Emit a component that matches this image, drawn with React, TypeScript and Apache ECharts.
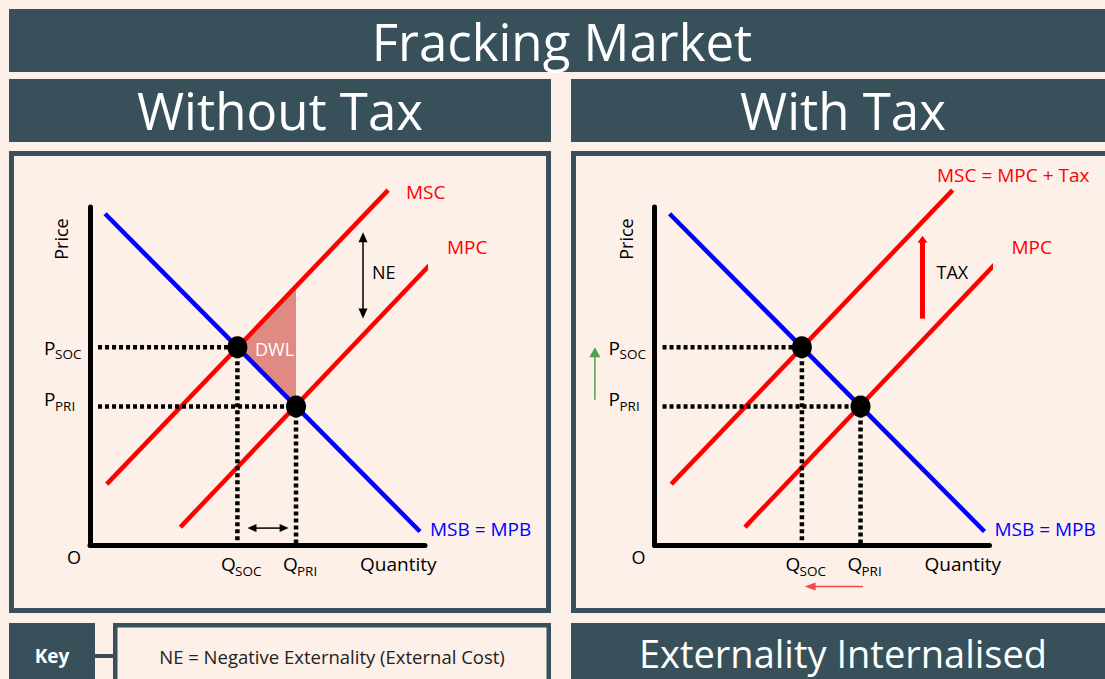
import React, { useEffect, useRef } from "react";
import * as echarts from "echarts";

// ---- data (economic units: quantity 0..100, price 0..100) ----
const msbQ = [4.5, 98.5];
const msbP = [98, 4];
const mscQ = [5, 89];
const mscP = [18, 105];
const mpcQ = [27, 103];
const mpcP = [5.3, 84.5];
const qSoc = 44;
const pSoc = 58.5;
const qPri = 61.5;
const pPri = 41;
const dwlQ = [44, 61.5, 61.5];
const dwlP = [58.5, 76.5, 41];
const dashStartQ = 2.4;
// annotation arrows: [fromQ, fromP, toQ, toP]
const neArrow = [81.5, 67, 81.5, 92.5];
const qGapArrow = [47, 5, 59.3, 5];
const taxArrow = [80, 67, 80, 91.5];
const greenArrow = [-17.8, 43, -17.8, 58.5];
const redArrow = [62.2, -12.3, 44.8, -12.3];

const BG = "#fdf0e8";
const DARK = "#37505a";
const RED = "#ff0000";
const BLUE = "#0000ff";
const FONT = '"Open Sans", "Liberation Sans", sans-serif';

const pair = (qs: number[], ps: number[]) => qs.map((q, i) => [q, ps[i]]);

function txt(text: string, x: number, y: number, size: number, color: string, opts: any = {}) {
  return {
    type: "text",
    x,
    y,
    z: 100,
    silent: true,
    rotation: opts.rotation || 0,
    style: {
      text,
      fill: color,
      fontSize: size,
      fontFamily: FONT,
      fontWeight: opts.bold ? "bold" : "normal",
      textAlign: opts.align || "left",
      textVerticalAlign: "middle",
    },
  };
}

function arrowSeries(idx: number, a: number[], color: string, width: number, both: boolean, headL: number, headW: number) {
  return {
    type: "custom",
    xAxisIndex: idx,
    yAxisIndex: idx,
    clip: false,
    silent: true,
    z: 6,
    data: [a],
    renderItem: (params: any, api: any) => {
      const p1 = api.coord([api.value(0), api.value(1)]);
      const p2 = api.coord([api.value(2), api.value(3)]);
      const dx = p2[0] - p1[0];
      const dy = p2[1] - p1[1];
      const len = Math.sqrt(dx * dx + dy * dy) || 1;
      const ux = dx / len;
      const uy = dy / len;
      const nx = -uy;
      const ny = ux;
      const head = (tip: number[], sx: number, sy: number) => {
        const bx = tip[0] - sx * headL;
        const by = tip[1] - sy * headL;
        return {
          type: "polygon",
          shape: { points: [tip, [bx + nx * headW, by + ny * headW], [bx - nx * headW, by - ny * headW]] },
          style: { fill: color },
        };
      };
      const s1 = both ? [p1[0] + ux * headL * 0.9, p1[1] + uy * headL * 0.9] : p1;
      const s2 = [p2[0] - ux * headL * 0.9, p2[1] - uy * headL * 0.9];
      const children: any[] = [
        { type: "line", shape: { x1: s1[0], y1: s1[1], x2: s2[0], y2: s2[1] }, style: { stroke: color, lineWidth: width } },
        head(p2, ux, uy),
      ];
      if (both) children.push(head(p1, -ux, -uy));
      return { type: "group", children };
    },
  };
}

function panelSeries(idx: number, withTax: boolean) {
  const ax = { xAxisIndex: idx, yAxisIndex: idx };
  const solid = (data: number[][], color: string, z: number) => ({
    type: "line",
    ...ax,
    data,
    symbol: "none",
    clip: false,
    silent: true,
    z,
    lineStyle: { color, width: 4.5 },
    animation: false,
  });
  const dashed = (data: number[][]) => ({
    type: "line",
    ...ax,
    data,
    symbol: "none",
    clip: false,
    silent: true,
    z: 5,
    lineStyle: { color: "#000", width: 4.5, type: [4, 3] },
    animation: false,
  });
  const list: any[] = [];
  if (!withTax) {
    list.push({
      type: "custom",
      ...ax,
      clip: false,
      silent: true,
      z: 1,
      data: pair(dwlQ, dwlP),
      renderItem: (params: any, api: any) => {
        if (params.dataIndex !== 0) return null;
        const pts = dwlQ.map((q, i) => api.coord([q, dwlP[i]]));
        return { type: "polygon", shape: { points: pts }, style: { fill: "#e08a84" } };
      },
    });
  }
  list.push(solid(pair(mscQ, mscP), RED, 3));
  list.push(solid(pair(mpcQ, mpcP), RED, 3));
  list.push(solid(pair(msbQ, msbP), BLUE, 4));
  list.push(dashed([[dashStartQ, pSoc], [qSoc, pSoc]]));
  list.push(dashed([[dashStartQ, pPri], [qPri, pPri]]));
  list.push(dashed([[qSoc, pSoc], [qSoc, 0]]));
  list.push(dashed([[qPri, pPri], [qPri, 0]]));
  list.push({
    type: "scatter",
    ...ax,
    data: [[qSoc, pSoc], [qPri, pPri]],
    symbolSize: [20, 22],
    itemStyle: { color: "#000", opacity: 1 },
    silent: true,
    clip: false,
    z: 10,
  });
  if (!withTax) {
    list.push(arrowSeries(idx, neArrow, "#000", 1.5, true, 10, 4.5));
    list.push(arrowSeries(idx, qGapArrow, "#000", 1.5, true, 9, 4));
  } else {
    list.push(arrowSeries(idx, taxArrow, RED, 5, false, 7, 5));
    list.push(arrowSeries(idx, greenArrow, "#4ea24a", 1.5, false, 10, 5.5));
    list.push(arrowSeries(idx, redArrow, "#f04a4a", 1.5, false, 11, 4));
  }
  return list;
}

function panelLabels(dx: number, withTax: boolean) {
  const out: any[] = [];
  out.push(txt("Price", 61 + dx, 239, 18, "#000", { align: "center", rotation: Math.PI / 2 }));
  out.push(txt("O", 74 + dx, 557, 18, "#000", { align: "center" }));
  out.push(txt("P", 44 + dx, 348, 19, "#000"));
  out.push(txt("SOC", 55 + dx, 354, 13.5, "#000"));
  out.push(txt("P", 44 + dx, 399, 19, "#000"));
  out.push(txt("PRI", 55 + dx, 406, 13.5, "#000"));
  out.push(txt("Q", 221 + dx, 564, 19, "#000"));
  out.push(txt("SOC", 235 + dx, 571, 13.5, "#000"));
  out.push(txt("Q", 283 + dx, 564, 19, "#000"));
  out.push(txt("PRI", 297 + dx, 571, 13.5, "#000"));
  out.push(txt("Quantity", 360 + dx, 564, 19, "#000"));
  out.push(txt("MPC", 447 + dx, 247, 19, RED));
  out.push(txt("MSB = MPB", 430 + dx, 529, 19, BLUE));
  if (!withTax) {
    out.push(txt("MSC", 406 + dx, 192, 19, RED));
    out.push(txt("NE", 372 + dx, 272, 18, "#000"));
    out.push(txt("DWL", 255 + dx, 349, 18, "#fff"));
  } else {
    out.push(txt("MSC = MPC + Tax", 937, 175, 19, RED));
    out.push(txt("TAX", 372 + dx, 272, 18, "#000"));
  }
  return out;
}

export default function App() {
  const ref = useRef<HTMLDivElement>(null);
  useEffect(() => {
    if (!ref.current) return;
    const chart = echarts.init(ref.current, undefined, { renderer: "svg" });
    const DX = 564.5;
    const axisCommon = {
      type: "value",
      min: 0,
      max: 100,
      axisTick: { show: false },
      axisLabel: { show: false },
      splitLine: { show: false },
      axisLine: { show: true, onZero: false, lineStyle: { color: "#000", width: 5 } },
      z: 2,
    };
    const rects: any[] = [
      { type: "rect", z: -5, shape: { x: 9, y: 9, width: 1110, height: 63 }, style: { fill: DARK } },
      { type: "rect", z: -5, shape: { x: 9, y: 79, width: 542, height: 63 }, style: { fill: DARK } },
      { type: "rect", z: -5, shape: { x: 571, y: 79, width: 545, height: 63 }, style: { fill: DARK } },
      { type: "rect", z: -5, shape: { x: 11.5, y: 153.5, width: 537, height: 457 }, style: { fill: BG, stroke: DARK, lineWidth: 5 } },
      { type: "rect", z: -5, shape: { x: 573.5, y: 153.5, width: 560, height: 457 }, style: { fill: BG, stroke: DARK, lineWidth: 5 } },
      { type: "rect", z: -5, shape: { x: 9, y: 623, width: 86, height: 60 }, style: { fill: DARK } },
      { type: "rect", z: -5, shape: { x: 95, y: 654, width: 19, height: 4 }, style: { fill: DARK } },
      { type: "rect", z: -5, shape: { x: 115.25, y: 625.25, width: 433.5, height: 60 }, style: { fill: BG, stroke: DARK, lineWidth: 4.5 } },
      { type: "rect", z: -5, shape: { x: 571, y: 623, width: 545, height: 60 }, style: { fill: DARK } },
    ];
    const headers: any[] = [
      txt("Fracking Market", 562, 41, 51, "#fff", { align: "center" }),
      txt("Without Tax", 280, 110, 51, "#fff", { align: "center" }),
      txt("With Tax", 843, 110, 51, "#fff", { align: "center" }),
      txt("Key", 52, 656, 19, "#fff", { align: "center", bold: true }),
      txt("NE = Negative Externality (External Cost)", 332, 656, 18.5, "#222", { align: "center" }),
      txt("Externality Internalised", 843, 653, 38, "#fff", { align: "center" }),
    ];
    chart.setOption({
      animation: false,
      backgroundColor: BG,
      grid: [
        { left: 90, top: 207, width: 335, height: 338 },
        { left: 90 + DX, top: 207, width: 335, height: 338 },
      ],
      xAxis: [
        { ...axisCommon, gridIndex: 0 },
        { ...axisCommon, gridIndex: 1 },
      ],
      yAxis: [
        { ...axisCommon, gridIndex: 0 },
        { ...axisCommon, gridIndex: 1 },
      ],
      graphic: { elements: [...rects, ...headers, ...panelLabels(0, false), ...panelLabels(DX, true)] },
      series: [...panelSeries(0, false), ...panelSeries(1, true)],
    });
    return () => chart.dispose();
  }, []);
  return (
    <div
      ref={ref}
      style={{ position: "absolute", left: 0, top: 0, width: 1105, height: 679 }}
    />
  );
}
